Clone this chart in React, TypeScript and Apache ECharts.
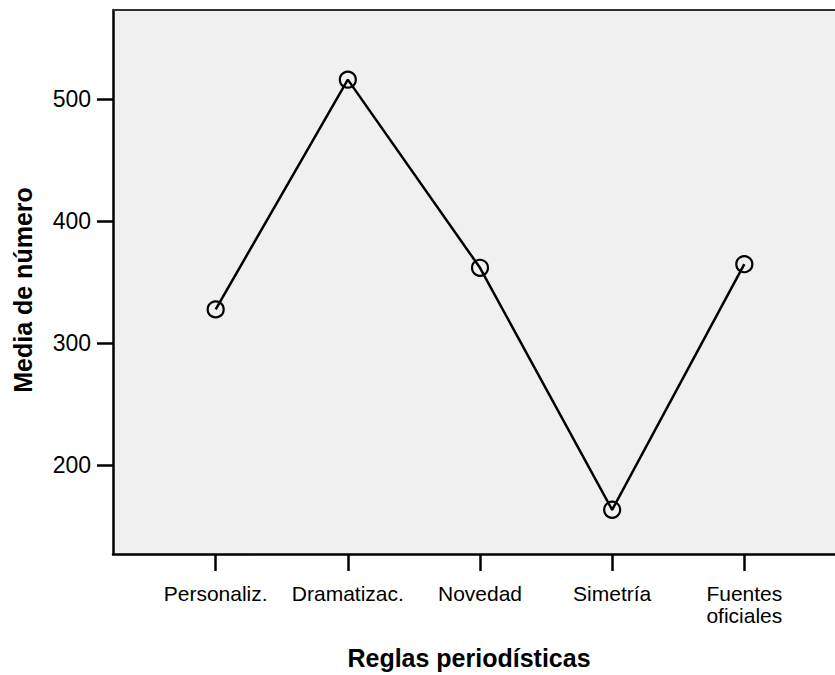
import React, { useEffect, useRef } from "react";
import * as echarts from "echarts";

const categories = ["Personaliz.", "Dramatizac.", "Novedad", "Simetría", "Fuentes\noficiales"];
const means = [328, 516, 362, 164, 365];
const yTicks = [200, 300, 400, 500];
const yMin = 127;
const yMax = 573;
const xTitle = "Reglas periodísticas";
const yTitle = "Media de número";

const FONT = "'Liberation Sans', Arial, Helvetica, sans-serif";

export default function App() {
  const ref = useRef<HTMLDivElement>(null);
  useEffect(() => {
    if (!ref.current) return;
    const chart = echarts.init(ref.current, null, { renderer: "svg" });
    const option = {
      animation: false,
      backgroundColor: "#ffffff",
      textStyle: { fontFamily: FONT, color: "#000" },
      grid: [
        {
          left: 113,
          right: 0,
          top: 10,
          bottom: 120,
          show: true,
          backgroundColor: "#f0f0f0",
          borderWidth: 0,
        },
        {
          left: 149.6,
          right: 24.6,
          top: 10,
          bottom: 120,
        },
      ],
      xAxis: [
        {
          gridIndex: 0,
          type: "value",
          min: 0,
          max: 1,
          position: "bottom",
          axisLine: { show: true, lineStyle: { color: "#000", width: 2.5 } },
          axisTick: { show: false },
          axisLabel: { show: false },
          splitLine: { show: false },
          name: xTitle,
          nameLocation: "middle",
          nameGap: 91,
          nameTextStyle: {
            fontFamily: FONT,
            fontWeight: "bold",
            fontSize: 25,
            color: "#000",
            padding: [0, 10, 0, 0],
          },
        },
        {
          gridIndex: 1,
          type: "category",
          data: categories,
          boundaryGap: true,
          position: "bottom",
          axisLine: { show: false },
          axisTick: { show: true, alignWithLabel: true, length: 16, lineStyle: { color: "#000", width: 2.5 } },
          axisLabel: {
            show: true,
            interval: 0,
            margin: 27,
            fontFamily: FONT,
            fontSize: 21,
            lineHeight: 22,
            color: "#000",
          },
          splitLine: { show: false },
        },
        {
          gridIndex: 0,
          type: "value",
          min: 0,
          max: 1,
          position: "top",
          axisLine: { show: true, lineStyle: { color: "#333", width: 2 } },
          axisTick: { show: false },
          axisLabel: { show: false },
          splitLine: { show: false },
        },
      ],
      yAxis: [
        {
          gridIndex: 0,
          type: "value",
          min: yMin,
          max: yMax,
          axisLine: { show: true, lineStyle: { color: "#000", width: 2.5 } },
          axisTick: {
            show: true,
            customValues: yTicks,
            length: 16,
            lineStyle: { color: "#000", width: 2.5 },
          },
          axisLabel: {
            show: true,
            customValues: yTicks,
            margin: 22,
            fontFamily: FONT,
            fontSize: 23,
            color: "#000",
          },
          splitLine: { show: false },
          name: yTitle,
          nameLocation: "middle",
          nameGap: 78,
          nameTextStyle: {
            fontFamily: FONT,
            fontWeight: "bold",
            fontSize: 25,
            color: "#000",
            padding: [0, 16, 0, 0],
          },
        },
        {
          gridIndex: 1,
          type: "value",
          min: yMin,
          max: yMax,
          show: false,
          splitLine: { show: false },
        },
      ],
      series: [
        {
          type: "line",
          xAxisIndex: 1,
          yAxisIndex: 1,
          data: means,
          symbol: "circle",
          symbolSize: 16,
          showSymbol: true,
          lineStyle: { color: "#000", width: 2.5 },
          itemStyle: { color: "transparent", borderColor: "#000", borderWidth: 2.2 },
          z: 5,
        },
      ],
    };
    chart.setOption(option as any);
    return () => chart.dispose();
  }, []);
  return (
    <div
      ref={ref}
      style={{ position: "absolute", left: 0, top: 0, width: 835, height: 675 }}
    />
  );
}
